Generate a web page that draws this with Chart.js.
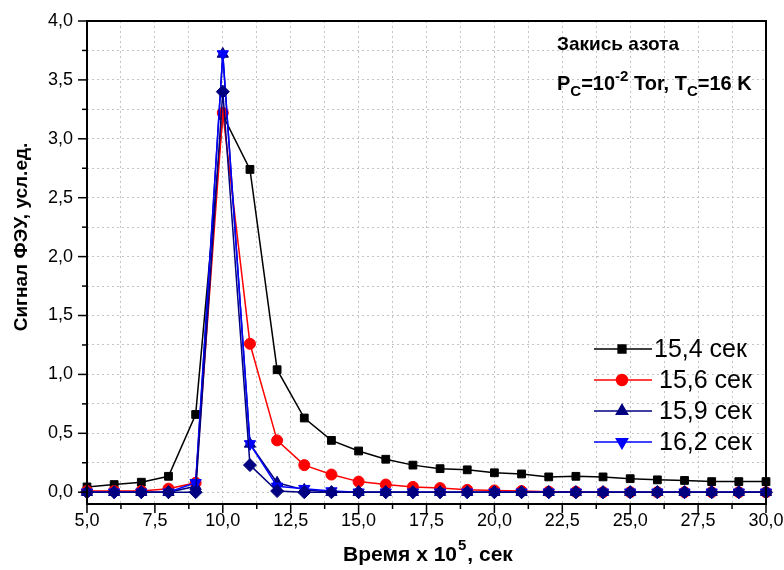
<!DOCTYPE html>
<html><head><meta charset="utf-8">
<script src="https://cdn.jsdelivr.net/npm/chart.js@4/dist/chart.umd.min.js"></script>
<style>html,body{margin:0;padding:0;background:#fff}#wrap{width:784px;height:570px}</style>
</head><body><div id="wrap"><canvas id="c" width="784" height="570"></canvas></div>
<script>
const time = [5,6,7,8,9,10,11,12,13,14,15,16,17,18,19,20,21,22,23,24,25,26,27,28,29,30];
const s154 = [0.045,0.065,0.085,0.135,0.66,3.2,2.74,1.04,0.63,0.44,0.35,0.28,0.23,0.2,0.19,0.165,0.155,0.13,0.135,0.13,0.115,0.105,0.1,0.09,0.09,0.09];
const s156 = [0.01,0.01,0.01,0.03,0.08,3.22,1.26,0.44,0.23,0.15,0.09,0.065,0.045,0.035,0.02,0.015,0.01,0.005,0.003,0,0,0,0,0,0,0];
const s159 = [0,0,0,0,0.05,3.72,0.41,0.08,0.02,0,0,0,0,0,0,0,0,0,0,0,0,0,0,0,0,0];
const s162 = [0,0,0,0,0.08,3.72,0.41,0.05,0.03,0.01,0,0,0,0,0,0,0,0,0,0,0,0,0,0,0,0];
const sDiam = [0,0,0,0,0,3.4,0.23,0.01,0,0,0,0,0,0,0,0,0,0,0,0,0,0,0,0,0,0];
const seriesNames = ['15,4 сек','15,6 сек','15,9 сек','16,2 сек'];
const xTicks = [5,6.25,7.5,8.75,10,11.25,12.5,13.75,15,16.25,17.5,18.75,20,21.25,22.5,23.75,25,26.25,27.5,28.75,30];
const xTickLabels = ['5,0','','7,5','','10,0','','12,5','','15,0','','17,5','','20,0','','22,5','','25,0','','27,5','','30,0'];
const yTicks = [0,0.25,0.5,0.75,1,1.25,1.5,1.75,2,2.25,2.5,2.75,3,3.25,3.5,3.75,4];
const yTickLabels = ['0,0','','0,5','','1,0','','1,5','','2,0','','2,5','','3,0','','3,5','','4,0'];

const FONT = "'Liberation Sans', Arial, sans-serif";
const pts = v => time.map((t,i)=>({x:t,y:v[i]}));

function mk(label, vals, color, style, radius, order, bw){
  return {label, data: pts(vals), borderColor: color, backgroundColor: color,
    pointStyle: style, pointRadius: radius, pointHoverRadius: radius, borderWidth: bw||1.5,
    pointBorderWidth: 1, tension: 0, clip: false, order};
}

const datasets = [
  mk(seriesNames[0], s154, '#000000', 'rect', 5.5, 4),
  mk(seriesNames[1], s156, '#ff0000', 'circle', 5.5, 3),
  mk(seriesNames[2], s159, '#000080', 'triangle', 6.5, 2),
  mk(seriesNames[3], s162, '#0000ff', 'triangle', 6.5, 1),
  mk('', sDiam, '#000080', 'rectRot', 6.5, 0)
];
datasets[3].pointRotation = 180;

const deco = {
  id: 'deco',
  afterDraw(chart){
    const ctx = chart.ctx, a = chart.chartArea;
    const xs = chart.scales.x, ys = chart.scales.y;
    ctx.save();
    ctx.strokeStyle = '#000'; ctx.lineWidth = 1.5;
    xTicks.forEach((v,i)=>{
      const px = xs.getPixelForValue(v);
      const len = xTickLabels[i] ? 9 : 5;
      ctx.beginPath(); ctx.moveTo(px, a.bottom); ctx.lineTo(px, a.bottom+len); ctx.stroke();
    });
    yTicks.forEach((v,i)=>{
      const py = ys.getPixelForValue(v);
      const len = yTickLabels[i] ? 9 : 5;
      ctx.beginPath(); ctx.moveTo(a.left, py); ctx.lineTo(a.left-len, py); ctx.stroke();
    });
    ctx.lineWidth = 2;
    ctx.strokeRect(a.left, a.top, a.right-a.left, a.bottom-a.top);

    ctx.fillStyle = '#000';
    ctx.save();
    ctx.translate(22, 237);
    ctx.rotate(-Math.PI/2);
    ctx.font = 'bold 19px ' + FONT;
    ctx.textAlign = 'center'; ctx.textBaseline = 'middle';
    ctx.fillText('Сигнал ФЭУ, усл.ед.', 0, 0);
    ctx.restore();

    ctx.textBaseline = 'alphabetic'; ctx.textAlign = 'left';
    const big = 'bold 21px ' + FONT, sup = 'bold 15px ' + FONT;
    const p1 = 'Время x 10', p2 = '5', p3 = ', сек';
    ctx.font = big; const w1 = ctx.measureText(p1).width, w3 = ctx.measureText(p3).width;
    ctx.font = sup; const w2 = ctx.measureText(p2).width;
    let x0 = 427 - (w1+w2+w3)/2; const yb = 561;
    ctx.font = big; ctx.fillText(p1, x0, yb);
    ctx.font = sup; ctx.fillText(p2, x0+w1+1, yb-11);
    ctx.font = big; ctx.fillText(p3, x0+w1+w2+2, yb);

    ctx.font = 'bold 19px ' + FONT;
    ctx.fillText('Закись азота', 557, 50);
    let ax = 557; const ab = 90;
    const seg = (t, f, dy) => { ctx.font = f; ctx.fillText(t, ax, ab+dy); ax += ctx.measureText(t).width; };
    const N = 'bold 20px ' + FONT, S = 'bold 15px ' + FONT;
    seg('P', N, 0); seg('C', S, 6); seg('=10', N, 0); seg('-2', S, -9); seg(' Tor, T', N, 0); seg('C', S, 6); seg('=16 K', N, 0);

    const ly = [349, 380, 411, 442];
    for (let i=0;i<4;i++){
      const ds = datasets[i];
      ctx.strokeStyle = ds.borderColor; ctx.lineWidth = 1.5;
      ctx.beginPath(); ctx.moveTo(594, ly[i]); ctx.lineTo(652, ly[i]); ctx.stroke();
      Chart.helpers.drawPoint(ctx, {pointStyle: ds.pointStyle, radius: ds.pointRadius, rotation: ds.pointRotation||0, borderWidth: 1}, 622, ly[i]);
      ctx.fillStyle = ds.backgroundColor;
      ctx.fill();
      ctx.fillStyle = '#000';
      ctx.font = '25px ' + FONT; ctx.textBaseline = 'middle';
      ctx.fillText(seriesNames[i], i === 0 ? 654 : 659, ly[i]+1);
    }
    ctx.restore();
  }
};

new Chart(document.getElementById('c'), {
  type: 'line',
  data: { datasets },
  options: {
    responsive: false, animation: false, devicePixelRatio: 1,
    layout: { padding: { left: 0, right: 18, top: 21, bottom: 0 } },
    plugins: { legend: { display: false }, tooltip: { enabled: false } },
    scales: {
      x: {
        type: 'linear', min: 5, max: 30,
        afterBuildTicks: s => { s.ticks = xTicks.map(v=>({value:v})); },
        afterFit: s => { s.height = 66; s.paddingLeft = 0; s.paddingRight = 0; },
        ticks: { autoSkip: false, maxRotation: 0, padding: 6, color: '#000',
          font: { family: FONT, size: 18 },
          callback: (v, i) => xTickLabels[i] },
        grid: { color: '#c4c4c4', lineWidth: 1, drawTicks: false },
        border: { display: false, dash: [2, 3] }
      },
      y: {
        type: 'linear', min: -0.1, max: 4,
        afterBuildTicks: s => { s.ticks = yTicks.map(v=>({value:v})); },
        afterFit: s => { s.width = 87; s.paddingTop = 0; s.paddingBottom = 0; },
        ticks: { autoSkip: false, padding: 14, color: '#000',
          font: { family: FONT, size: 18 },
          callback: (v, i) => yTickLabels[i] },
        grid: { color: '#c4c4c4', lineWidth: 1, drawTicks: false },
        border: { display: false, dash: [2, 3] }
      }
    }
  },
  plugins: [deco]
});
</script>
</body></html>
